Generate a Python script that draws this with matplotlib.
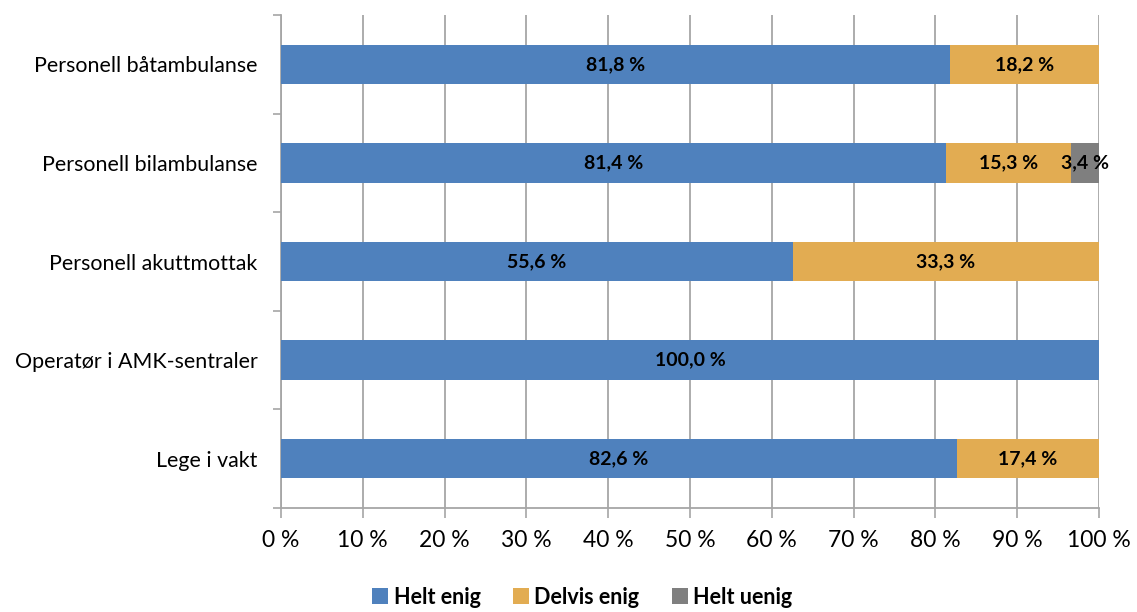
import matplotlib
matplotlib.use("Agg")
import matplotlib.pyplot as plt
import numpy as np
from matplotlib.patches import Patch

plt.rcParams["font.family"] = ["Lato", "DejaVu Sans"]

# rows from bottom to top
categories = [
    "Lege i vakt",
    "Operatør i AMK-sentraler",
    "Personell akuttmottak",
    "Personell bilambulanse",
    "Personell båtambulanse",
]
helt_enig = [82.6, 100.0, 55.6, 81.4, 81.8]
delvis_enig = [17.4, 0.0, 33.3, 15.3, 18.2]
helt_uenig = [0.0, 0.0, 0.0, 3.4, 0.0]

series_names = ["Helt enig", "Delvis enig", "Helt uenig"]
colors = ["#4F81BD", "#E2AC52", "#7F7F7F"]
xticks = [0, 10, 20, 30, 40, 50, 60, 70, 80, 90, 100]

grid_color = "#A6A6A6"


def fmt_pct(v: float) -> str:
    return f"{v:.1f}".replace(".", ",") + " %"


fig = plt.figure(figsize=(11.37, 6.12), dpi=100)
ax = fig.add_axes([281 / 1137, 1 - 508 / 612, 818 / 1137, 493 / 612])

data = np.array([helt_enig, delvis_enig, helt_uenig])
totals = data.sum(axis=0)
shares = data / totals * 100  # 100 % stacked

y = np.arange(len(categories))
left = np.zeros(len(categories))
for vals, share, color in zip(data, shares, colors):
    ax.barh(y, share, left=left, height=0.4, color=color, zorder=3)
    for yi, v, s, l in zip(y, vals, share, left):
        if v > 0:
            ax.text(l + s / 2, yi, fmt_pct(v), ha="center", va="center",
                    fontsize=14, fontweight="bold", color="black", zorder=4)
    left += share

ax.set_xlim(0, 100)
ax.set_ylim(-0.5, len(categories) - 0.5)

ax.set_xticks(xticks)
ax.set_xticklabels([f"{t} %" for t in xticks], fontsize=16.5)
ax.tick_params(axis="x", direction="out", length=7, width=1.2, color=grid_color, pad=9)

ax.set_yticks(y)
ax.set_yticklabels(categories, fontsize=15.4)
ax.set_yticks(np.arange(-0.5, len(categories)), minor=True)
ax.tick_params(axis="y", which="major", length=0, pad=17)
ax.tick_params(axis="y", which="minor", direction="out", length=6, width=1.2, color=grid_color)

ax.grid(axis="x", color=grid_color, linewidth=1.3, zorder=0)
for side in ["top", "right"]:
    ax.spines[side].set_visible(False)
for side in ["left", "bottom"]:
    ax.spines[side].set_color(grid_color)
    ax.spines[side].set_linewidth(1.3)

handles = [Patch(facecolor=c, label=n) for c, n in zip(colors, series_names)]
fig.legend(handles=handles, loc="center", bbox_to_anchor=(0.512, 1 - 597 / 612),
           ncol=3, frameon=False, handlelength=0.75, handleheight=0.75,
           handletextpad=0.25, columnspacing=1.5,
           prop={"size": 15.5, "weight": "bold"})

fig.savefig("out.png", dpi=100)
